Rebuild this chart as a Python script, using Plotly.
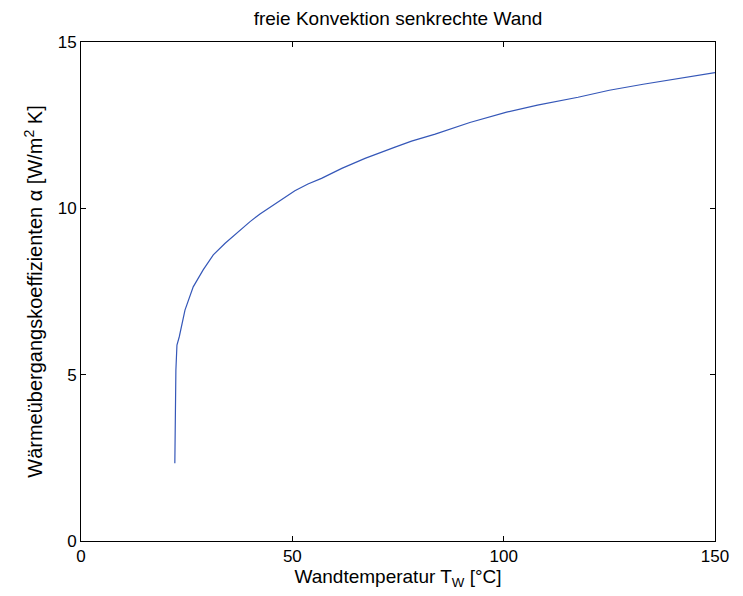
import plotly.graph_objects as go

# Wandtemperatur T_W [°C]
wandtemperatur = [22.2, 22.25, 22.45, 22.7, 23.25, 24.6, 26.55, 28.9, 31.3, 34.1, 36.8,
                  40.0, 42.35, 44.3, 47.5, 50.6, 53.7, 56.9, 61.7, 67.2, 74.3, 78.2,
                  83.8, 92.0, 100.7, 108.0, 117.6, 125.0, 133.0, 141.0, 150.0]
# Wärmeübergangskoeffizient alpha [W/m^2 K]
alpha = [2.34, 3.73, 5.14, 5.89, 6.14, 6.94, 7.64, 8.15, 8.60, 8.95, 9.25,
         9.6, 9.83, 10.0, 10.28, 10.53, 10.73, 10.9, 11.2, 11.5, 11.84, 12.02,
         12.23, 12.58, 12.89, 13.1, 13.34, 13.55, 13.73, 13.9, 14.08]

x_ticks = [0, 50, 100, 150]
y_ticks = [0, 5, 10, 15]

fig = go.Figure()
fig.add_trace(go.Scatter(x=wandtemperatur, y=alpha, mode="lines",
                         line=dict(color="#3557b8", width=1.2),
                         showlegend=False))

axis_common = dict(showgrid=False, zeroline=False, showline=True, linecolor="black",
                   linewidth=1, mirror="ticks", ticks="inside", ticklen=5,
                   tickcolor="black", tickfont=dict(size=17, color="black"))

fig.update_layout(
    width=743, height=596,
    margin=dict(l=81, r=28, t=42, b=55),
    paper_bgcolor="white", plot_bgcolor="white",
    font=dict(family="Liberation Sans, Arial, sans-serif", size=17, color="black"),
    title=dict(text="freie Konvektion senkrechte Wand", x=0.5, xref="paper", xanchor="center",
               y=1 - 18 / 596, yanchor="middle", font=dict(size=19)),
    xaxis=dict(range=[0, 150], tickvals=x_ticks,
               title=dict(text="Wandtemperatur T<sub>W</sub> [°C]", standoff=3,
                          font=dict(size=19)),
               **axis_common),
    yaxis=dict(range=[0, 15], tickvals=y_ticks,
               title=dict(text="Wärmeübergangskoeffizienten α [W/m<sup>2</sup> K]", standoff=9,
                          font=dict(size=20)),
               **axis_common),
)

fig.write_html("out.html")
